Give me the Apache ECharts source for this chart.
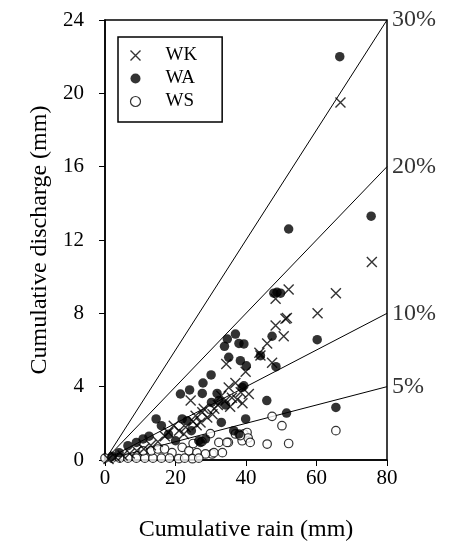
<!DOCTYPE html>
<html><head><meta charset="utf-8">
<script src="https://cdn.jsdelivr.net/npm/echarts@6/dist/echarts.min.js"></script>
<style>html,body{margin:0;padding:0;background:#fff}#c{width:451px;height:557px}</style>
</head><body><div id="c"></div>
<script>
const xTicks = [0, 20, 40, 60, 80];
const yTicks = [0, 4, 8, 12, 16, 20, 24];
const ratioLabels = ['30%', '20%', '10%', '5%'];
const ratioValues = [0.30, 0.20, 0.10, 0.05];

const WK = [
  [66.8,19.5],[75.7,10.8],[65.5,9.1],[60.3,8.0],[52.1,9.3],[48.4,8.8],[51.6,7.75],[48.4,7.33],
  [51.2,7.7],[50.7,6.75],[46,6.35],[44.1,5.7],[43.8,5.85],[47.4,5.3],[34.4,5.24],[39.9,4.82],
  [35.1,3.96],[40.8,3.6],[37,4.2],[38.5,3.7],[36,3.4],[39,3.1],[35.5,2.9],[33,3.5],[31,2.8],
  [24.3,3.24],[25.7,2.42],[27.6,2.6],[29,2.32],[27.1,2.05],[19.5,1.87],[21,1.6],[22.9,1.78],
  [22.4,1.42],[30.5,2.5],[32,3.0],[17,1.3],[15,1.0],[13,0.8],[11,0.6],[9,0.5],[7,0.35],
  [5,0.25],[3,0.15],[1,0.05],[18,1.5],[25,2.1],[28,2.8],[26,1.9],[34,3.2],[37.5,3.3]
];
const WA = [
  [66.6,22],[52.1,12.6],[75.5,13.3],[60.2,6.56],[65.5,2.87],[51.5,2.56],[45.9,3.24],[39.9,2.24],
  [47.9,9.1],[48.8,9.15],[49.8,9.1],[47.4,6.75],[37,6.87],[34.7,6.6],[38,6.36],[33.9,6.2],
  [39.4,6.33],[44.1,5.69],[35.1,5.6],[38.4,5.42],[40.1,5.14],[48.5,5.09],[38.9,3.96],[30.1,4.64],
  [27.8,4.2],[24,3.82],[21.4,3.6],[27.6,3.63],[31.8,3.63],[39.4,4.05],[30.2,3.14],[34.2,3.0],
  [32.3,3.24],[33,2.05],[21.9,2.24],[23.3,2.14],[14.5,2.24],[16,1.87],[10.8,1.15],[8.9,0.96],
  [6.5,0.78],[26.6,1.05],[28.5,1.15],[20,1.05],[38,1.42],[27.1,0.96],[12.5,1.3],[18,1.4],
  [4,0.4],[2,0.2],[24.5,1.6],[36.5,1.6]
];
const WS = [
  [65.5,1.6],[52.1,0.9],[46,0.87],[50.2,1.87],[47.4,2.38],[39.4,1.42],[40.3,1.5],[38.9,1.05],
  [40.6,1.2],[41.2,0.96],[35,0.96],[32.3,0.96],[34.6,0.96],[29.9,1.44],[37,1.42],[38.4,1.33],
  [30.4,0.33],[19,0.4],[21.9,0.69],[23.8,0.5],[26.1,0.4],[28.5,0.33],[30.9,0.4],[33.3,0.4],
  [20.9,0.07],[24.8,0.07],[26.6,0.1],[0,0.1],[2,0.1],[4.2,0.1],[6.5,0.1],[8.9,0.1],[11.3,0.1],
  [13.6,0.1],[16,0.1],[18.3,0.1],[10.8,0.5],[13.1,0.5],[15,0.6],[16.9,0.6],[27.5,1.0],[25,0.9],[22.6,0.1]
];

const FONT = '"Liberation Serif", "Times New Roman", serif';
const chart = echarts.init(document.getElementById('c'), null, {renderer: 'canvas'});

const xMax = xTicks[xTicks.length - 1];
const ratioLines = ratioValues.map((r, i) => ({
  type: 'line', name: ratioLabels[i], data: [[0, 0], [xMax, r * xMax]],
  symbol: 'none', silent: true, animation: false, z: 1,
  lineStyle: {color: '#000', width: 1}
}));
const ratioLabelSeries = {
  type: 'scatter', silent: true, animation: false, symbolSize: 0,
  data: ratioValues.map((r, i) => ({value: [xMax, r * xMax], name: ratioLabels[i]})),
  label: {show: true, position: 'right', distance: 5, formatter: p => p.name,
          color: '#000', fontFamily: FONT, fontSize: 24}
};
const XSYM = 'path://M0,0L10,10M10,0L0,10';

chart.setOption({
  animation: false,
  backgroundColor: '#fff',
  grid: {left: 105, right: 64, top: 20, bottom: 97, show: true, borderColor: '#000', borderWidth: 1.5},
  legend: {
    left: 118, top: 37, orient: 'vertical',
    padding: [9, 25, 11, 10], itemGap: 4, itemWidth: 10, itemHeight: 10,
    borderColor: '#000', borderWidth: 1.5,
    textStyle: {fontFamily: FONT, fontSize: 19, lineHeight: 19, color: '#000', padding: [0, 0, 0, 20]},
    data: [
      {name: 'WK', icon: XSYM, itemStyle: {color: 'none', borderColor: '#000', borderWidth: 1.4}},
      {name: 'WA'},
      {name: 'WS', icon: 'circle', itemStyle: {color: '#fff', borderColor: '#000', borderWidth: 1.2}}
    ]
  },
  xAxis: {
    type: 'value', min: xTicks[0], max: xMax, interval: 20,
    name: 'Cumulative rain (mm)', nameLocation: 'middle', nameGap: 58,
    nameTextStyle: {fontFamily: FONT, fontSize: 24, color: '#000'},
    axisLine: {lineStyle: {color: '#000', width: 1.5}},
    axisTick: {show: true, length: 6, lineStyle: {color: '#000'}},
    axisLabel: {fontFamily: FONT, fontSize: 21, color: '#000', margin: 8},
    splitLine: {show: false}
  },
  yAxis: {
    type: 'value', min: yTicks[0], max: yTicks[yTicks.length - 1], interval: 4,
    name: 'Cumulative discharge (mm)', nameLocation: 'middle', nameGap: 48,
    nameTextStyle: {fontFamily: FONT, fontSize: 24, color: '#000'},
    axisLine: {lineStyle: {color: '#000', width: 1.5}},
    axisTick: {show: true, length: 6, lineStyle: {color: '#000'}},
    axisLabel: {fontFamily: FONT, fontSize: 21, color: '#000', margin: 21},
    splitLine: {show: false}
  },
  series: [
    ...ratioLines,
    ratioLabelSeries,
    {type: 'scatter', name: 'WS', data: WS, symbol: 'circle', symbolSize: 8.5, z: 3,
     itemStyle: {color: '#fff', borderColor: '#000', borderWidth: 1.2}},
    {type: 'scatter', name: 'WK', data: WK, symbol: XSYM, symbolSize: 10, z: 4,
     itemStyle: {color: 'none', borderColor: '#000', borderWidth: 1.4}},
    {type: 'scatter', name: 'WA', data: WA, symbol: 'circle', symbolSize: 9.5, z: 5,
     itemStyle: {color: '#000', borderColor: '#000', borderWidth: 0}}
  ]
});
</script></body></html>
